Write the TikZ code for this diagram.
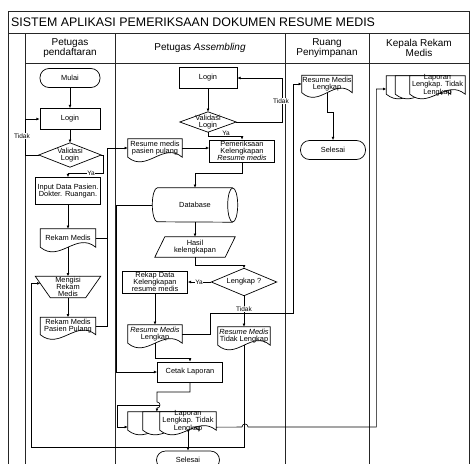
\documentclass[tikz,border=0pt]{standalone}
\usepackage{fontspec}
\setmainfont{Liberation Sans}
\usetikzlibrary{calc,arrows.meta}
\tikzset{
  lane/.style={line width=0.9pt, draw=black!85},
  shp/.style={line width=0.7pt, draw=black},
  con/.style={line width=0.6pt, draw=black, -{Latex[length=3.2pt,width=2.8pt]}},
  conl/.style={line width=0.6pt, draw=black},
  txt/.style={font=\fontsize{7.4}{7.3}\selectfont, align=center, inner sep=0pt, text=black},
  box/.style={txt, shp},
  term/.style={txt, shp, rounded corners=9pt},
  lbl/.style={font=\fontsize{6.5}{7}\selectfont, fill=white, inner sep=0.6pt},
  head/.style={font=\fontsize{10}{10.5}\selectfont, align=center, inner sep=0pt},
  titl/.style={font=\fontsize{12.4}{13}\selectfont, inner sep=0pt, anchor=west},
}
\newcommand\docout[2][]{\draw[shp,#1] (#2.south west) -- (#2.north west) -- (#2.north east) -- (#2.south east) .. controls ($(#2.south west)!0.65!(#2.south east)+(0,-16)$) and ($(#2.south west)!0.35!(#2.south east)+(0,16)$) .. (#2.south west) -- cycle;}
\newcommand\diamout[1]{\draw[shp] (#1.north) -- (#1.east) -- (#1.south) -- (#1.west) -- cycle;}
\newcommand\trapout[2]{\draw[shp] (#1.north west) -- (#1.north east) -- ($(#1.south east)+(-#2,0)$) -- ($(#1.south west)+(#2,0)$) -- cycle;}
\newcommand\paraout[2]{\draw[shp] ($(#1.north west)+(#2,0)$) -- (#1.north east) -- ($(#1.south east)+(-#2,0)$) -- (#1.south west) -- cycle;}
\begin{document}
\begin{tikzpicture}[x=1pt,y=-1pt]
\useasboundingbox (0,0) rectangle (470,463);
\clip (0,0) rectangle (470,463);
% frame and lanes
\draw[lane] (8,470) -- (8,11) -- (469.5,11) -- (469.5,470);
\draw[lane] (8,33) -- (469.5,33);
\draw[lane] (25,63) -- (469.5,63);
\foreach \x in {25,115,285,369}{\draw[lane] (\x,33) -- (\x,470);}
\node[titl] (title) at (11,22.5) {SISTEM APLIKASI PEMERIKSAAN DOKUMEN RESUME MEDIS};
\node[head] (hA) at (70,48) {Petugas\\pendaftaran};
\node[head] (hB) at (200,48) {Petugas \textit{Assembling}};
\node[head] (hC) at (327,48) {Ruang\\Penyimpanan};
\node[head] (hD) at (419,48) {Kepala Rekam\\Medis};
% Petugas pendaftaran
\node[term, minimum width=60, minimum height=19] (mulai) at (70,78) {Mulai};
\node[box, minimum width=60, minimum height=21] (login1) at (70,119) {Login};
\node[txt, minimum width=62, minimum height=24] (val1) at (70,155) {Validasi\\Login}; \diamout{val1}
\node[box, minimum width=65, minimum height=27] (input) at (68,191) {Input Data Pasien.\\Dokter. Ruangan.};
\node[txt, minimum width=55, minimum height=18] (rekam) at (68,238) {Rekam Medis}; \docout{rekam}
\node[txt, minimum width=65, minimum height=21] (mengisi) at (68,287) {Mengisi\\Rekam\\Medis}; \trapout{mengisi}{15}
\node[txt, minimum width=55, minimum height=17] (rmpp) at (68,326) {Rekam Medis\\Pasien Pulang}; \docout{rmpp}
% Petugas Assembling
\node[box, minimum width=58, minimum height=21] (login2) at (208,78) {Login};
\node[txt, minimum width=56, minimum height=20] (val2) at (208,122) {Validasi\\Login}; \diamout{val2}
\node[txt, minimum width=54, minimum height=18] (rmpp2) at (155,148) {Resume medis\\pasien pulang}; \docout{rmpp2}
\node[box, minimum width=65, minimum height=22] (periksa) at (242,151) {Pemeriksaan\\Kelengkapan\\\textit{Resume medis}};
\node[txt, minimum width=85, minimum height=34] (db) at (195,205) {Database};
\draw[shp] ($(db.north east)+(-5,0)$) -- ($(db.north west)+(5,0)$) arc[start angle=-90, end angle=-270, x radius=5, y radius=17] -- ($(db.south east)+(-5,0)$);
\draw[shp] ($(db.east)+(-5,0)$) ellipse[x radius=5, y radius=17];
\node[txt, minimum width=80, minimum height=20] (hasil) at (195,247) {Hasil\\kelengkapan}; \paraout{hasil}{10}
\node[txt, minimum width=65, minimum height=27] (lengkap) at (244,282) {Lengkap ?}; \diamout{lengkap}
\node[box, minimum width=65, minimum height=22] (rekap) at (155,282) {Rekap Data\\Kelengkapan\\resume medis};
\node[txt, minimum width=54, minimum height=18] (rml) at (155,334) {\textit{Resume Medis}\\Lengkap}; \docout{rml}
\node[txt, minimum width=52, minimum height=18] (rmtl) at (244,336) {\textit{Resume Medis}\\Tidak Lengkap}; \docout{rmtl}
\node[box, minimum width=65, minimum height=20] (cetak) at (190,372) {Cetak Laporan};
\node[minimum width=56, minimum height=18, inner sep=0pt] (lapA) at (156,421) {};
\node[minimum width=56, minimum height=18, inner sep=0pt] (lapB) at (171,421) {};
\node[minimum width=56, minimum height=18, inner sep=0pt] (lapC) at (188,421) {};
\docout[fill=white]{lapA}\docout[fill=white]{lapB}\docout[fill=white]{lapC}
\node[txt] (lapT) at (188,421) {Laporan\\Lengkap. Tidak\\Lengkap};
\node[term, minimum width=63, minimum height=18] (selesai2) at (188,460) {Selesai};
% Ruang Penyimpanan
\node[txt, minimum width=50, minimum height=17] (rml2) at (327,84) {Resume Medis\\Lengkap}; \docout{rml2}
\node[term, minimum width=65, minimum height=19] (selesai1) at (333,150) {Selesai};
% Kepala Rekam Medis
\node[minimum width=55, minimum height=18, inner sep=0pt] (lapK1) at (414,85) {};
\node[minimum width=55, minimum height=18, inner sep=0pt] (lapK2) at (423,85) {};
\node[minimum width=55, minimum height=18, inner sep=0pt] (lapK3) at (437.5,85) {};
\docout[fill=white]{lapK1}\docout[fill=white]{lapK2}\docout[fill=white]{lapK3}
\node[txt] (lapKT) at (437.5,85) {Laporan\\Lengkap. Tidak\\Lengkap};
% connectors
\draw[con] (mulai.south) -- (login1.north);
\draw[con] (login1.south) -- (val1.north);
\draw[con] (val1.west) -| ($(login1.west)+(-14,0)$) -- (login1.west);
\node[lbl] (t1) at (22,136) {Tidak};
\draw[con] (val1.east) -| (103,173) -| (input.north);
\node[lbl] (y1) at (91,173) {Ya};
\draw[con] (input.south) -- (rekam.north);
\draw[con] (rekam.south) -- (mengisi.north);
\draw[con] (mengisi.south) -- (rmpp.north);
\coordinate (jx) at (107,148);
\draw[conl] (rekam.east) -- (rekam.east -| jx);
\draw[con] (rmpp.east) -| (jx) -- (rmpp2.west);
\draw[con] (rmpp2.east) -- (rmpp2.east -| periksa.west);
\draw[con] (login2.south) -- (val2.north);
\draw[con] (val2.east) -| ($(login2.east)+(45,0)$) -- (login2.east);
\node[lbl] (t2) at (281,101) {Tidak};
\draw[con] (val2.south) -- ++(0,4) -| (periksa.north);
\node[lbl, fill=none] (y2) at (226,133) {Ya};
\draw[con] (periksa.south) -- ++(0,11) -| (db.north);
\draw[con] (db.south) -- (hasil.north);
\draw[con] (hasil.south) -- ++(0,8) -| (lengkap.north);
\draw[con] (lengkap.west) -- (rekap.east);
\node[lbl] (y3) at (199,282) {Ya};
\draw[con] (rekap.south) -- (rml.north);
\draw[con] (lengkap.south) -- (rmtl.north);
\node[lbl] (t3) at (244,309) {Tidak};
\draw[con] (rml.east) -| (210,313) -| ($(rml2.west)+(-9,0)$) -- (rml2.west);
\draw[con] (rml.south) -- ++(0,15) -| (cetak.north);
\draw[con] (db.west) -- (116,205) |- (cetak.west);
\draw[con] (cetak.south) |- (157,392) -- (157,402) .. controls (161,402) and (161,408) .. (157,408) -- ($(lapB.north west)+(14,0)$);
\coordinate (lp) at (160,405);
\draw[con] (lp) -- (117,405) |- ($(lapA.west)+(0,6)$);
\draw[con] ($(lapC.south east)+(0,-3)$) -- (242,427) .. controls (242,423) and (248,423) .. (248,427) -| ($(lapK1.west)+(-10,4)$) -- ($(lapK1.west)+(0,4)$);
\draw[con] (rmtl.south) |- (31,447) |- ($(mengisi.north west)!0.33!(mengisi.south west)+(5,0)$);
\draw[con] (lapC.south) -- (selesai2.north);
\draw[con] (rml2.south) -- ++(0,19.5) -| (selesai1.north);
\end{tikzpicture}
\end{document}
